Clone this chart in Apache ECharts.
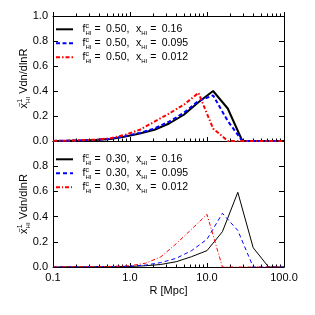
<!DOCTYPE html>
<html>
<head>
<meta charset="utf-8">
<script src="https://cdn.jsdelivr.net/npm/echarts@6/dist/echarts.min.js"></script>
<style>html,body{margin:0;padding:0;background:#fff;}#c{width:315px;height:315px;}</style>
</head>
<body>
<div id="c"></div>
<script>
// ---- data ----
const R_TOP = [0.1, 0.15, 0.23, 0.36, 0.56, 0.87, 1.34, 2.08, 3.22, 5.0, 7.74, 12.0, 18.6, 28.8, 44.7, 69.3, 100];
const TOP_BLACK = [0.001, 0.002, 0.004, 0.008, 0.016, 0.035, 0.06, 0.09, 0.14, 0.21, 0.31, 0.40, 0.26, 0, 0, 0, 0];
const TOP_BLUE  = [0.001, 0.002, 0.005, 0.009, 0.018, 0.04, 0.065, 0.10, 0.155, 0.225, 0.32, 0.365, 0.16, 0, 0, 0, 0];
const TOP_RED   = [0.001, 0.003, 0.006, 0.011, 0.022, 0.05, 0.09, 0.155, 0.22, 0.29, 0.385, 0.10, 0, 0, 0, 0, 0];

const R_BOT = [0.1, 0.158, 0.251, 0.398, 0.631, 1.0, 1.585, 2.512, 3.981, 6.31, 10.0, 15.85, 25.12, 39.81, 63.1, 100];
const BOT_BLACK = [0, 0.001, 0.001, 0.002, 0.003, 0.004, 0.01, 0.02, 0.042, 0.082, 0.13, 0.28, 0.593, 0.153, 0, 0];
const BOT_BLUE  = [0, 0.001, 0.002, 0.003, 0.004, 0.006, 0.015, 0.035, 0.069, 0.13, 0.22, 0.426, 0.29, 0, 0, 0];
const BOT_RED   = [0, 0.001, 0.002, 0.003, 0.005, 0.01, 0.03, 0.08, 0.185, 0.30, 0.418, 0, 0, 0, 0, 0];

const TOP_FC = ['0.50', '0.50', '0.50'];
const BOT_FC = ['0.30', '0.30', '0.30'];
const XHI = ['0.16', '0.095', '0.012'];

const X_MINOR_MULT = [2, 3, 4, 5, 6, 7, 8, 9];
const X_DECADES = [0.1, 1, 10];

// ---- build ----
const FONT = 'Liberation Sans, Arial, Helvetica, sans-serif';
const minorLog = [];
X_DECADES.forEach(d => X_MINOR_MULT.forEach(m => minorLog.push(Math.log10(d * m))));

const zip = (xs, ys) => xs.map((x, i) => [x, ys[i]]);
const names = ['black', 'blue', 'red'];
const topNames = names.map(n => 'top_' + n);
const botNames = names.map(n => 'bot_' + n);
const legendText = {};
const mk = (fc, x) => `{f|f}{c|c}{h|HI}{e|=}{t|${fc},}{x|x}{h|HI}{e|=}{t|${x}}`;
topNames.forEach((n, i) => legendText[n] = mk(TOP_FC[i], XHI[i]));
botNames.forEach((n, i) => legendText[n] = mk(BOT_FC[i], XHI[i]));

const base = {fontSize: 10.5, lineHeight: 14, fontFamily: FONT, color: '#000'};
const rich = {
  t: Object.assign({}, base),
  f: Object.assign({}, base, {padding: [0, 0, 0, 4.5]}),
  e: Object.assign({}, base, {padding: [0, 5.5, 0, 3]}),
  x: Object.assign({}, base, {padding: [0, 0, 0, 6.5]}),
  c: {fontSize: 7, lineHeight: 8, verticalAlign: 'top', width: 0, fontFamily: FONT, color: '#000'},
  h: {fontSize: 6, lineHeight: 7, verticalAlign: 'bottom', fontFamily: FONT, color: '#000'}
};
const nameRich = {
  t: {fontSize: 11, lineHeight: 14, fontFamily: FONT, color: '#000'},
  s: {fontSize: 7, lineHeight: 8, verticalAlign: 'top', width: 0, fontFamily: FONT, color: '#000'},
  h: {fontSize: 6, lineHeight: 7, verticalAlign: 'bottom', fontFamily: FONT, color: '#000'}
};
const yName = '{t|x}{s|\u22121}{h|HI}{t| Vdn/dlnR}';

const axisLine = {show: true, onZero: false, lineStyle: {color: '#000', width: 1}};
const lbl = {fontSize: 11, fontFamily: FONT, color: '#000'};

function logX(grid, pos, showLabel, tickInside, extra) {
  return Object.assign({
    type: 'log', logBase: 10, min: 0.1, max: 100, gridIndex: grid, position: pos,
    axisLine: axisLine,
    axisTick: {show: true, inside: tickInside, length: 4, lineStyle: {color: '#000'}},
    axisLabel: Object.assign({show: showLabel, margin: 5, formatter: v => Number(v).toFixed(1)}, lbl),
    splitLine: {show: false}, minorTick: {show: false}
  }, extra || {});
}
function minorX(grid, pos, inside) {
  return {
    type: 'value', min: -1, max: 2, gridIndex: grid, position: pos,
    axisLine: {show: false, onZero: false},
    axisTick: {show: true, inside: inside, length: 2.5, customValues: minorLog, lineStyle: {color: '#000'}},
    axisLabel: {show: false}, splitLine: {show: false}
  };
}
function valY(grid, pos, showLabel, extra) {
  return Object.assign({
    type: 'value', min: 0, max: 1, interval: 0.2, gridIndex: grid, position: pos,
    axisLine: axisLine,
    axisTick: {show: true, inside: true, length: 5, lineStyle: {color: '#000'}},
    axisLabel: Object.assign({show: showLabel, margin: 5,
      formatter: v => (grid === 1 && v >= 0.999) ? '' : Number(v).toFixed(1)}, lbl),
    splitLine: {show: false}
  }, extra || {});
}

const colors = ['#000000', '#0000ff', '#ff0000'];
const topDash = ['solid', [4, 2.5], [4, 2, 1.5, 2]];
const botDash = ['solid', [4, 3], [4, 2, 1, 2]];
const topData = [TOP_BLACK, TOP_BLUE, TOP_RED];
const botData = [BOT_BLACK, BOT_BLUE, BOT_RED];

const series = [];
topData.forEach((d, i) => series.push({
  name: topNames[i], type: 'line', xAxisIndex: 0, yAxisIndex: 0,
  data: zip(R_TOP, d), symbol: 'none', showSymbol: false, animation: false,
  lineStyle: {color: colors[i], type: topDash[i], width: 2}, itemStyle: {color: colors[i]}
}));
botData.forEach((d, i) => series.push({
  name: botNames[i], type: 'line', xAxisIndex: 2, yAxisIndex: 2,
  data: zip(R_BOT, d), symbol: 'none', showSymbol: false, animation: false,
  lineStyle: {color: colors[i], type: botDash[i], width: 1}, itemStyle: {color: colors[i]}
}));

function legend(data, top) {
  return {
    data: data, orient: 'vertical', left: 55, top: top, padding: 0, itemGap: 0,
    itemWidth: 17, itemHeight: 10, selectedMode: false,
    itemStyle: {opacity: 0},
    formatter: n => legendText[n],
    textStyle: {fontSize: 10.5, lineHeight: 14, fontFamily: FONT, color: '#000', rich: rich}
  };
}

const yNameOpts = {name: yName, nameLocation: 'middle', nameRotate: 90, nameGap: 22,
  nameMoveOverlap: false, nameTextStyle: {rich: nameRich}};

const option = {
  animation: false,
  backgroundColor: '#fff',
  textStyle: {fontFamily: FONT},
  grid: [
    {left: 53, right: 31, top: 16, height: 125, outerBoundsMode: 'none', containLabel: false},
    {left: 53, right: 31, top: 141, height: 126, outerBoundsMode: 'none', containLabel: false}
  ],
  xAxis: [
    logX(0, 'bottom', false, true),
    logX(0, 'top', false, false),
    logX(1, 'bottom', true, true, {name: 'R [Mpc]', nameLocation: 'middle', nameGap: 18,
      nameMoveOverlap: false, nameTextStyle: {fontSize: 11, fontFamily: FONT, color: '#000'}}),
    logX(1, 'top', false, true, {axisTick: {show: false}}),
    minorX(0, 'bottom', true),
    minorX(0, 'top', false),
    minorX(1, 'bottom', true)
  ],
  yAxis: [
    valY(0, 'left', true, yNameOpts),
    valY(0, 'right', false),
    valY(1, 'left', true, yNameOpts),
    valY(1, 'right', false)
  ],
  legend: [legend(topNames, 22.3), legend(botNames, 152.3)],
  series: series
};

const chart = echarts.init(document.getElementById('c'), null, {renderer: 'canvas'});
chart.setOption(option);
</script>
</body>
</html>
